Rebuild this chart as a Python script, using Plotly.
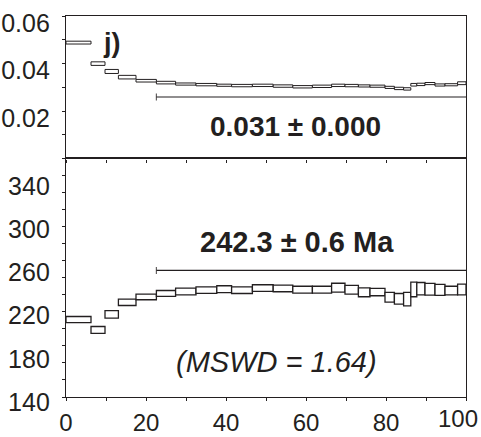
import plotly.graph_objects as go
from plotly.subplots import make_subplots

# Cumulative %39Ar released at the edges of each heating step
step_edges = [0, 6.25, 9.75, 13.1, 17.5, 22.6, 27.4, 32.5, 37.7, 41.4, 46.6,
              51.8, 56.7, 61.6, 66.4, 69.75, 73.1, 76.0, 79.75, 82.1, 84.4,
              86.2, 87.7, 89.75, 92.25, 94.75, 97.9, 100]

# Ca/K-type ratio per step (lower / upper bound of the error band)
ratio_lo = [0.0482, 0.0392, 0.0358, 0.0335, 0.0322, 0.0314, 0.0309, 0.0306,
            0.0304, 0.0302, 0.0303, 0.0300, 0.0297, 0.0299, 0.0303, 0.0302,
            0.0301, 0.0300, 0.0295, 0.0290, 0.0288, 0.0305, 0.0307, 0.0311,
            0.0305, 0.0306, 0.0311]
ratio_hi = [0.0494, 0.0407, 0.0375, 0.0350, 0.0333, 0.0325, 0.0318, 0.0316,
            0.0313, 0.0312, 0.0313, 0.0310, 0.0307, 0.0309, 0.0313, 0.0312,
            0.0310, 0.0309, 0.0304, 0.0300, 0.0298, 0.0316, 0.0317, 0.0320,
            0.0314, 0.0315, 0.0323]

# Apparent age per step in Ma (lower / upper bound of the error box)
age_lo = [209.0, 199.0, 213.1, 224.8, 230.1, 233.3, 234.7, 236.1, 236.8,
          235.9, 237.8, 237.5, 236.3, 236.3, 237.2, 235.4, 232.9, 233.8,
          228.0, 226.1, 224.5, 232.9, 234.7, 234.4, 234.1, 234.7, 234.7]
age_hi = [214.6, 205.3, 220.1, 230.7, 235.4, 238.7, 240.9, 242.1, 243.1,
          242.1, 244.0, 243.7, 242.6, 242.6, 245.4, 243.5, 241.2, 240.7,
          237.0, 235.9, 237.0, 246.5, 246.1, 245.2, 244.3, 242.6, 244.5]

# Plateau brackets: extent in %39Ar and the level each bracket is drawn at
plateau_x = [22.6, 100]
ratio_bracket_level = 0.0259
age_bracket_level = 257.3

ratio_label = "0.031 ± 0.000"
age_label = "242.3 ± 0.6 Ma"
mswd_label = "(MSWD = 1.64)"
panel_label = "j)"

x_tick_vals = [0, 20, 40, 60, 80, 100]
# the last label is placed separately, right-aligned so it stays on the page
x_tick_text = ["0", "20", "40", "60", "80", ""]
x_last_label = "100"
ratio_tick_vals = [0.02, 0.04, 0.06]
ratio_tick_text = ["0.02", "0.04", "0.06"]
age_tick_vals = [140, 180, 220, 260, 300, 340]
age_tick_text = ["140", "180", "220", "260", "300", "340"]

INK = "#231f20"
FONT = "Liberation Sans, Arial, sans-serif"

mids = [(a + b) / 2 for a, b in zip(step_edges[:-1], step_edges[1:])]
widths = [b - a for a, b in zip(step_edges[:-1], step_edges[1:])]

fig = make_subplots(rows=2, cols=1, shared_xaxes=True, vertical_spacing=0,
                    row_heights=[0.374, 0.626])

fig.add_trace(go.Bar(
    x=mids, width=widths, base=ratio_lo,
    y=[h - l for l, h in zip(ratio_lo, ratio_hi)],
    marker=dict(color="white", line=dict(color=INK, width=1)),
    showlegend=False, hoverinfo="skip"), row=1, col=1)

fig.add_trace(go.Bar(
    x=mids, width=widths, base=age_lo,
    y=[h - l for l, h in zip(age_lo, age_hi)],
    marker=dict(color="white", line=dict(color=INK, width=1.3)),
    showlegend=False, hoverinfo="skip"), row=2, col=1)

for level, row in ((ratio_bracket_level, 1), (age_bracket_level, 2)):
    fig.add_trace(go.Scatter(
        x=plateau_x, y=[level, level], mode="lines+markers",
        line=dict(color=INK, width=1.2),
        marker=dict(symbol="line-ns-open", size=[5, 0],
                    line=dict(color=INK, width=1.2)),
        showlegend=False, hoverinfo="skip", cliponaxis=False),
        row=row, col=1)

axis_common = dict(showline=True, mirror=True, linecolor=INK, linewidth=1.4,
                   showgrid=False, zeroline=False, automargin=False,
                   ticklabeloverflow="allow",
                   tickfont=dict(family=FONT, size=25, color=INK))

fig.update_xaxes(range=[0, 100.0001], tickvals=x_tick_vals,
                 ticktext=x_tick_text,
                 ticks="outside", ticklen=3, tickcolor=INK, tickwidth=1,
                 minor=dict(dtick=10, ticks="outside", ticklen=3,
                            tickcolor=INK, tickwidth=1),
                 **axis_common)
fig.update_xaxes(showticklabels=False, row=1, col=1)
fig.update_xaxes(ticklabelstandoff=1, tickfont_size=24, row=2, col=1)

fig.update_yaxes(range=[0, 0.060001], tickvals=ratio_tick_vals,
                 ticktext=ratio_tick_text, ticks="outside", ticklen=3,
                 tickcolor=INK, tickwidth=1, ticklabelshift=7,
                 ticklabelstandoff=7,
                 minor=dict(dtick=0.01, ticks="outside", ticklen=3,
                            tickcolor=INK, tickwidth=1),
                 row=1, col=1, **axis_common)

age_range = [140, 361]
age_minor = [age_range[0] + k * (age_range[1] - age_range[0]) / 14
             for k in range(15)]
fig.update_yaxes(range=age_range, tickvals=age_tick_vals,
                 ticktext=age_tick_text, ticks="", ticklabelshift=5,
                 ticklabelstandoff=10,
                 minor=dict(tickvals=age_minor, ticks="outside", ticklen=3,
                            tickcolor=INK, tickwidth=1),
                 row=2, col=1, **axis_common)

fig.add_annotation(x=x_tick_vals[-1], y=0, xref="x2", yref="paper",
                   text=x_last_label, showarrow=False,
                   xanchor="right", yanchor="top", xshift=14, yshift=-6,
                   font=dict(family=FONT, size=24, color=INK))

fig.add_annotation(x=11.5, y=0.0486, xref="x", yref="y", text=panel_label,
                   showarrow=False,
                   font=dict(family=FONT, size=27, color=INK, weight="bold"))
fig.add_annotation(x=57.3, y=0.0135, xref="x", yref="y", text=ratio_label,
                   showarrow=False,
                   font=dict(family=FONT, size=28, color=INK, weight="bold"))
fig.add_annotation(x=57.75, y=283.9, xref="x2", yref="y2", text=age_label,
                   showarrow=False,
                   font=dict(family=FONT, size=29, color=INK, weight="bold"))
fig.add_annotation(x=52.5, y=172.5, xref="x2", yref="y2", text=mswd_label,
                   showarrow=False,
                   font=dict(family=FONT, size=29, color=INK, style="italic"))

fig.update_layout(width=481, height=437, barmode="overlay",
                  margin=dict(l=66, r=15, t=16, b=40),
                  paper_bgcolor="white", plot_bgcolor="white")

fig.write_html("out.html")
